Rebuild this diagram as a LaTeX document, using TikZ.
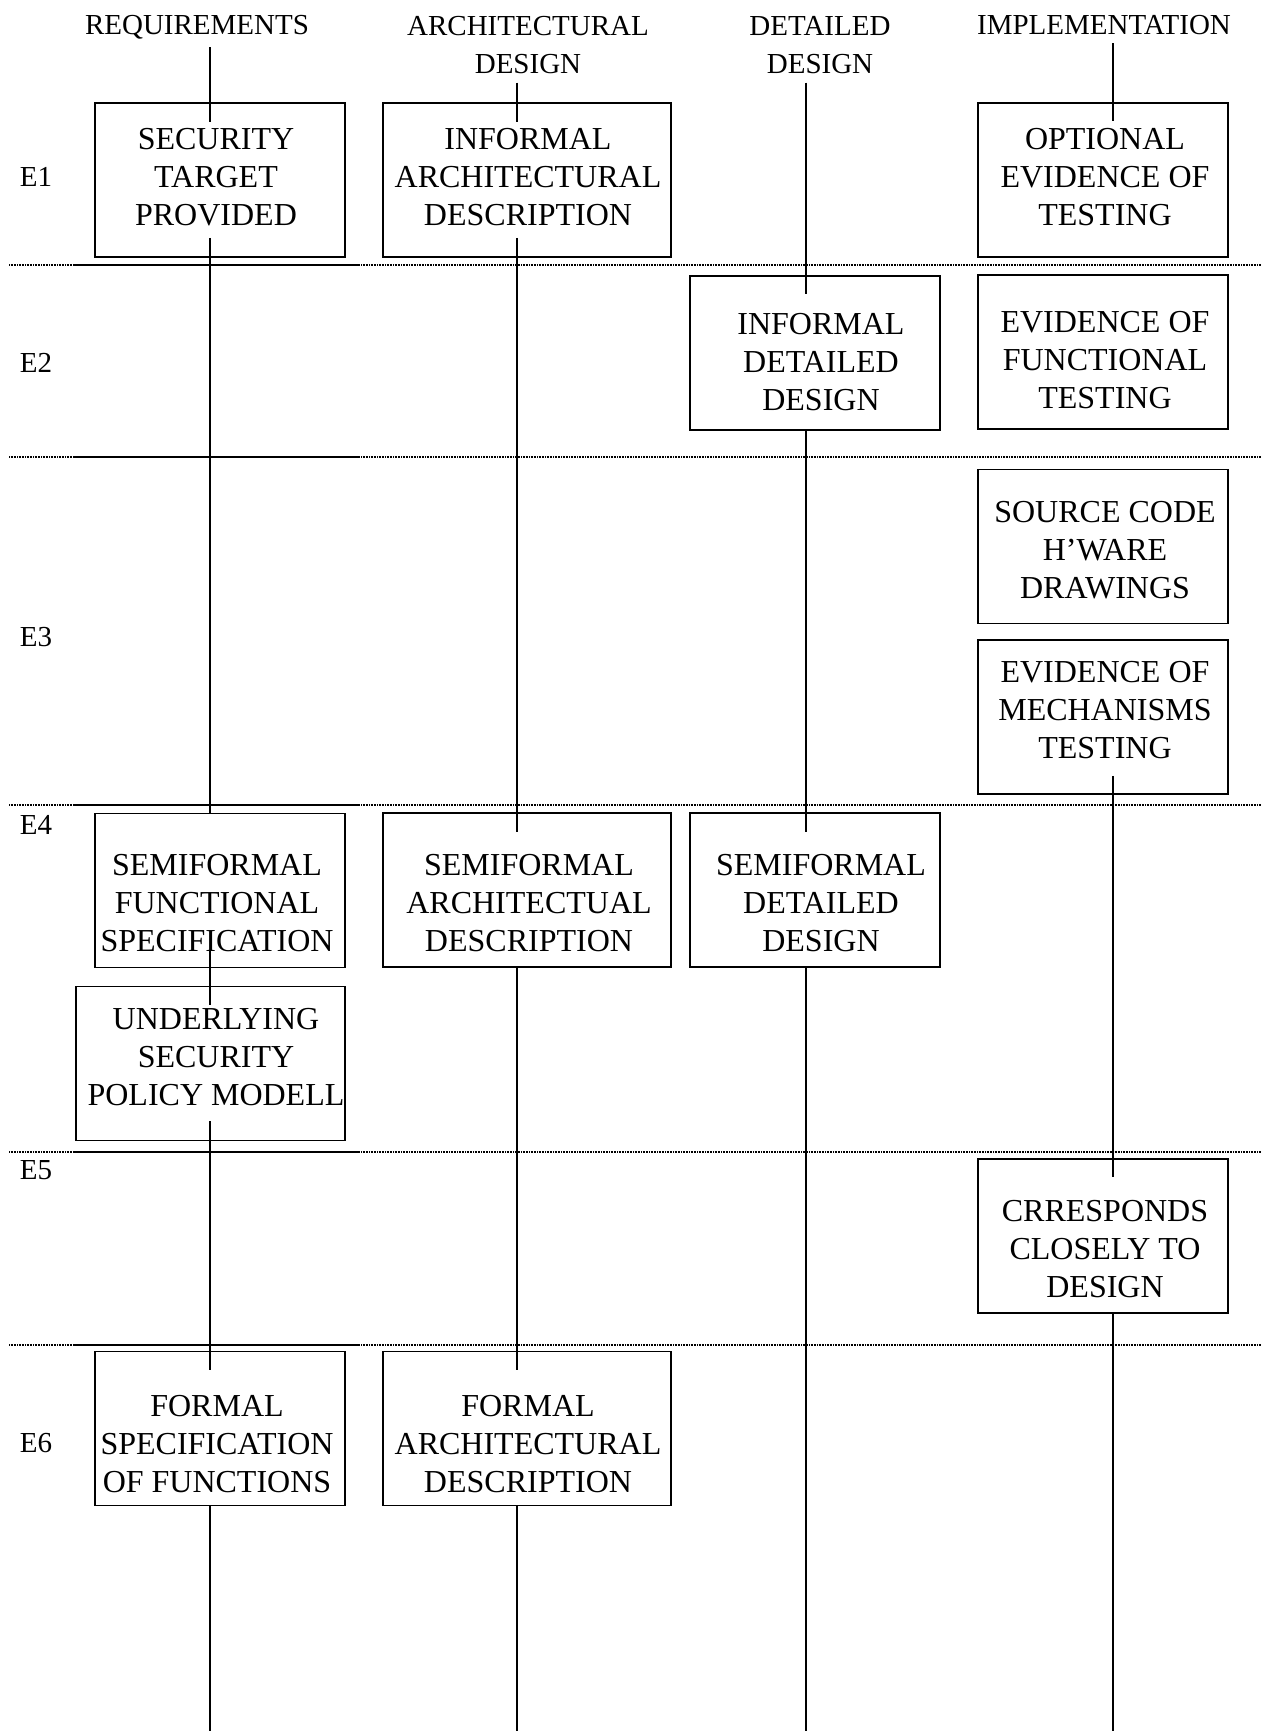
\documentclass[tikz,border=0pt]{standalone}
\usepackage{fontspec}
\setmainfont{Liberation Serif}
\usetikzlibrary{calc}
\begin{document}
\begin{tikzpicture}%
	[x=0.5pt,y=-0.5pt,
	font=\fontsize{14.5}{19}\selectfont,
	box/.style={draw,line width=0.9pt,minimum width=125pt,minimum height=77pt,inner sep=0pt},
	widebox/.style={box,minimum width=144pt},
	boxtext/.style={align=center,inner sep=0pt,font=\fontsize{16}{19}\selectfont},
	colhead/.style={align=center,inner sep=4pt},
	rowtag/.style={inner sep=0pt},
	link/.style={line width=0.7pt},
	rowline/.style={line width=0.6pt,dash pattern=on 0.5pt off 0.3pt},
	rowbar/.style={line width=1.2pt}]
\useasboundingbox (0,0) rectangle (1262,1731);
%%
%% Column headings and column ends
%%
\node[colhead] (hreq) at (197,27) {REQUIREMENTS};
\node[colhead] (harch) at (528,45.5) {ARCHITECTURAL\\DESIGN};
\node[colhead] (hdet) at (820,45.5) {DETAILED\\DESIGN};
\node[colhead] (himp) at (1104,25) {IMPLEMENTATION};
\coordinate (reqend) at (210,1731);
\coordinate (archend) at (517,1731);
\coordinate (detend) at (806,1731);
\coordinate (impend) at (1113,1731);
%%
%% Level separators
%%
\draw[rowline] (9,265) -- (1262,265);
\draw[rowbar] (74,265) -- (358,265);
\draw[rowline] (9,457) -- (1262,457);
\draw[rowbar] (74,457) -- (358,457);
\draw[rowline] (9,805) -- (1262,805);
\draw[rowbar] (74,805) -- (358,805);
\draw[rowline] (9,1152) -- (1262,1152);
\draw[rowbar] (74,1152) -- (358,1152);
\draw[rowline] (9,1345) -- (1262,1345);
\draw[rowbar] (74,1345) -- (358,1345);
%%
%% Level names
%%
\node[rowtag] (e1) at (36,177) {E1};
\node[rowtag] (e2) at (36,363) {E2};
\node[rowtag] (e3) at (36,637) {E3};
\node[rowtag] (e4) at (36,825) {E4};
\node[rowtag] (e5) at (36,1170) {E5};
\node[rowtag] (e6) at (36,1443) {E6};
%%
%% Boxes
%%
\node[box] (stb) at (220,180) {};
\node[boxtext] (st) at (216,177) {SECURITY\\TARGET\\PROVIDED};
\node[widebox] (iadb) at (527,180) {};
\node[boxtext] (iad) at (528,177) {INFORMAL\\ARCHITECTURAL\\DESCRIPTION};
\node[box] (oetb) at (1103,180) {};
\node[boxtext] (oet) at (1105,177) {OPTIONAL\\EVIDENCE OF\\TESTING};
\node[box] (iddb) at (815,353) {};
\node[boxtext] (idd) at (821,362) {INFORMAL\\DETAILED\\DESIGN};
\node[box] (eftb) at (1103,352) {};
\node[boxtext] (eft) at (1105,360) {EVIDENCE OF\\FUNCTIONAL\\TESTING};
\node[box] (scdb) at (1103,546.5) {};
\node[boxtext] (scd) at (1105,550) {SOURCE CODE\\H’WARE\\DRAWINGS};
\node[box] (emtb) at (1103,717) {};
\node[boxtext] (emt) at (1105,710) {EVIDENCE OF\\MECHANISMS\\TESTING};
\node[box] (sffb) at (220,890.5) {};
\node[boxtext] (sff) at (217,903) {SEMIFORMAL\\FUNCTIONAL\\SPECIFICATION};
\node[widebox] (sadb) at (527,890) {};
\node[boxtext] (sad) at (529,903) {SEMIFORMAL\\ARCHITECTUAL\\DESCRIPTION};
\node[box] (sddb) at (815,890) {};
\node[boxtext] (sdd) at (821,903) {SEMIFORMAL\\DETAILED\\DESIGN};
\node[box,minimum width=134.5pt] (uspb) at (210.5,1063.5) {};
\node[boxtext] (usp) at (216,1057) {UNDERLYING\\SECURITY\\POLICY MODELL};
\node[box] (ccdb) at (1103,1236) {};
\node[boxtext] (ccd) at (1105,1249) {CRRESPONDS\\CLOSELY TO\\DESIGN};
\node[box] (fsfb) at (220,1428.5) {};
\node[boxtext] (fsf) at (217,1444) {FORMAL\\SPECIFICATION\\OF FUNCTIONS};
\node[widebox] (fadb) at (527,1428.5) {};
\node[boxtext] (fad) at (528,1444) {FORMAL\\ARCHITECTURAL\\DESCRIPTION};
%%
%% Requirements column
%%
\draw[link] (hreq.south -| reqend) -- ($(stb.north -| reqend)+(0,20)$);
\draw[link] ($(stb.south -| reqend)+(0,-20)$) -- (sffb.north -| reqend);
\draw[link] ($(sffb.south -| reqend)+(0,-18)$) -- ($(uspb.north -| reqend)+(0,19)$);
\draw[link] ($(uspb.south -| reqend)+(0,-20)$) -- ($(fsfb.north -| reqend)+(0,19)$);
\draw[link] (fsfb.south -| reqend) -- (reqend);
%%
%% Architectural design column
%%
\draw[link] (harch.south -| archend) -- ($(iadb.north -| archend)+(0,20)$);
\draw[link] ($(iadb.south -| archend)+(0,-20)$) -- ($(sadb.north -| archend)+(0,20)$);
\draw[link] (sadb.south -| archend) -- ($(fadb.north -| archend)+(0,19)$);
\draw[link] (fadb.south -| archend) -- (archend);
%%
%% Detailed design column
%%
\draw[link] (hdet.south -| detend) -- ($(iddb.north -| detend)+(0,19)$);
\draw[link] (iddb.south -| detend) -- ($(sddb.north -| detend)+(0,20)$);
\draw[link] (sddb.south -| detend) -- (detend);
%%
%% Implementation column
%%
\draw[link] (himp.south -| impend) -- ($(oetb.north -| impend)+(0,19)$);
\draw[link] ($(emtb.south -| impend)+(0,-19)$) -- ($(ccdb.north -| impend)+(0,19)$);
\draw[link] (ccdb.south -| impend) -- (impend);
%%
\end{tikzpicture}
\end{document}
